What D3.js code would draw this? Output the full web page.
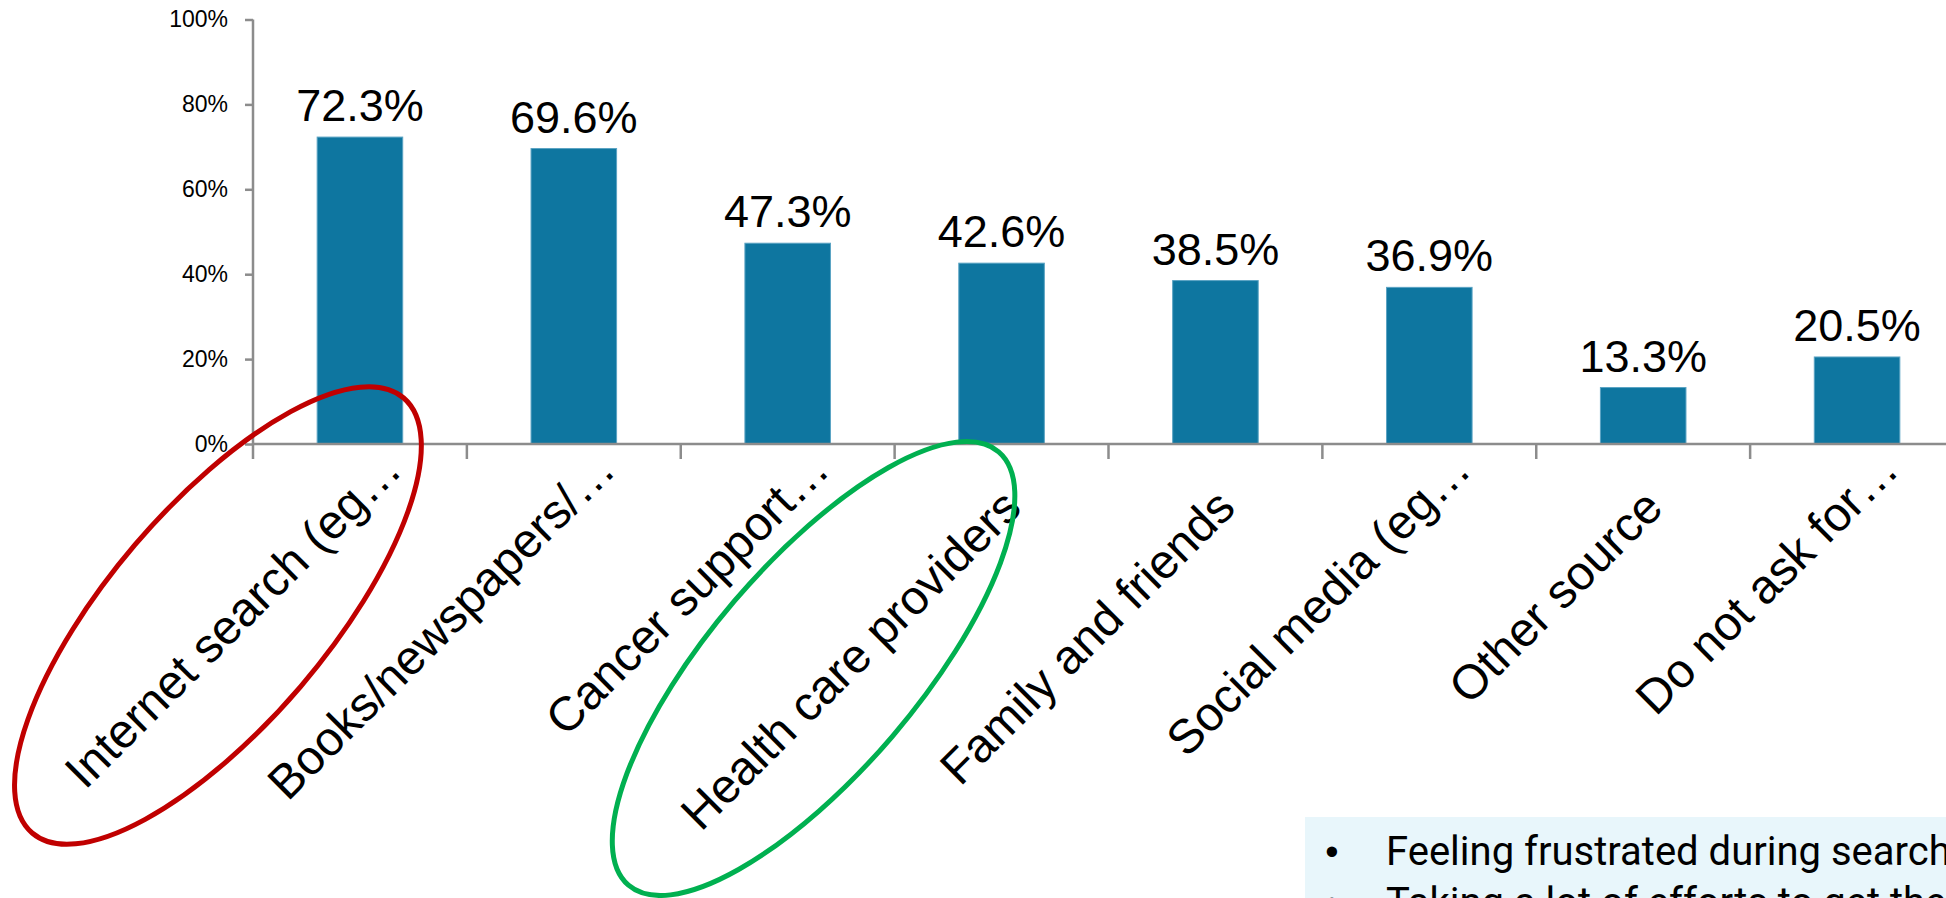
<!DOCTYPE html>
<html>
<head>
<meta charset="utf-8">
<script src="https://cdn.jsdelivr.net/npm/d3@7/dist/d3.min.js"></script>
<style>
  html, body { margin: 0; padding: 0; background: #ffffff; overflow: hidden; }
  svg { display: block; }
</style>
</head>
<body>
<svg id="chart" width="1946" height="898"></svg>
<script>
// Sources used to look for information (share of respondents)
const categories = [
  "Internet search (eg…",
  "Books/newspapers/…",
  "Cancer support…",
  "Health care providers",
  "Family and friends",
  "Social media (eg…",
  "Other source",
  "Do not ask for…"
];
const values = [0.723, 0.696, 0.473, 0.426, 0.385, 0.369, 0.133, 0.205];
const yTicks = [0, 0.2, 0.4, 0.6, 0.8, 1.0];
const notes = [
  "Feeling frustrated during search",
  "Taking a lot of efforts to get the"
];
// categories circled for emphasis: [index, colour]
const highlights = [[0, "#c00000"], [3, "#00b050"]];

const W = 1946, H = 898;
const plot = { left: 253, top: 19.5, bottom: 444, right: 1964 };
const svg = d3.select("#chart");

const x = d3.scaleBand()
  .domain(categories)
  .range([plot.left, plot.right])
  .paddingInner(0.6)
  .paddingOuter(0.3);
const y = d3.scaleLinear().domain([0, 1]).range([plot.bottom, plot.top]);
const step = x.step();
const axisColor = "#8c8c8c";
const fontMain = "'Liberation Sans', Arial, sans-serif";

// y axis
const yAxis = svg.append("g")
  .attr("transform", `translate(${plot.left},0)`)
  .call(d3.axisLeft(y).tickValues(yTicks).tickSize(8).tickSizeOuter(0)
    .tickFormat(d3.format(".0%")).tickPadding(17));
yAxis.select(".domain").remove();
yAxis.selectAll(".tick line").attr("stroke", axisColor).attr("stroke-width", 2.5);
yAxis.selectAll(".tick text")
  .attr("font-family", fontMain).attr("font-size", 23).attr("fill", "#000");
svg.append("line")
  .attr("x1", plot.left).attr("x2", plot.left)
  .attr("y1", y(1)).attr("y2", plot.bottom + 15)
  .attr("stroke", axisColor).attr("stroke-width", 2.5);

// bars
svg.append("g").selectAll("rect")
  .data(values)
  .join("rect")
  .attr("x", (d, i) => x(categories[i]))
  .attr("y", d => y(d))
  .attr("width", x.bandwidth())
  .attr("height", d => y(0) - y(d))
  .attr("fill", "#0e76a0")
  .attr("stroke", "#5aa3c3")
  .attr("stroke-width", 1);

// x axis line and category boundary ticks
svg.append("line")
  .attr("x1", plot.left).attr("x2", W)
  .attr("y1", y(0)).attr("y2", y(0))
  .attr("stroke", axisColor).attr("stroke-width", 2.5);
const boundaries = categories.map(c => x(c) + x.bandwidth() / 2 - step / 2);
boundaries.push(boundaries[boundaries.length - 1] + step);
svg.append("g").selectAll("line")
  .data(boundaries.slice(1))
  .join("line")
  .attr("x1", d => d).attr("x2", d => d)
  .attr("y1", y(0)).attr("y2", y(0) + 15)
  .attr("stroke", axisColor).attr("stroke-width", 2.5);

// value labels
svg.append("g").selectAll("text")
  .data(values)
  .join("text")
  .attr("x", (d, i) => x(categories[i]) + x.bandwidth() / 2)
  .attr("y", d => y(d) - 16)
  .attr("text-anchor", "middle")
  .attr("font-family", fontMain)
  .attr("font-size", 45)
  .attr("fill", "#000")
  .text(d => d3.format(".1%")(d));

// rotated category labels
svg.append("g").selectAll("text")
  .data(categories)
  .join("text")
  .attr("transform", d => {
    const cx = x(d) + x.bandwidth() / 2;
    const cut = d.endsWith("…");
    return `translate(${cx + (cut ? 44 : 22)},${y(0) + (cut ? 28 : 66)}) rotate(-45)`;
  })
  .attr("text-anchor", "end")
  .attr("font-family", fontMain)
  .attr("font-size", 48)
  .attr("fill", "#000")
  .text(d => d);

// emphasis ellipses around chosen category labels
const ellipseShape = { dx: [-142, -188], cy: [615.5, 668.5], rx: [286, 285], ry: [109, 104] };
highlights.forEach(([idx, colour], k) => {
  const cx = x(categories[idx]) + x.bandwidth() / 2 + ellipseShape.dx[k];
  const cy = ellipseShape.cy[k];
  svg.append("ellipse")
    .attr("cx", cx).attr("cy", cy)
    .attr("rx", ellipseShape.rx[k]).attr("ry", ellipseShape.ry[k])
    .attr("transform", `rotate(-49.5,${cx},${cy})`)
    .attr("fill", "none")
    .attr("stroke", colour)
    .attr("stroke-width", 5);
});

// note box, bottom right
const box = svg.append("g");
box.append("rect")
  .attr("x", 1305).attr("y", 817)
  .attr("width", W - 1305).attr("height", H - 817)
  .attr("fill", "#e8f6fb");
notes.forEach((t, i) => {
  const by = 865 + i * 51;
  box.append("text")
    .attr("x", 1332).attr("y", by)
    .attr("text-anchor", "middle")
    .attr("font-family", fontMain).attr("font-size", 38)
    .attr("fill", "#000").text("•");
  box.append("text")
    .attr("x", 1386).attr("y", by)
    .attr("font-family", "Roboto, sans-serif").attr("font-size", 40)
    .attr("fill", "#000").text(t);
});
</script>
</body>
</html>
